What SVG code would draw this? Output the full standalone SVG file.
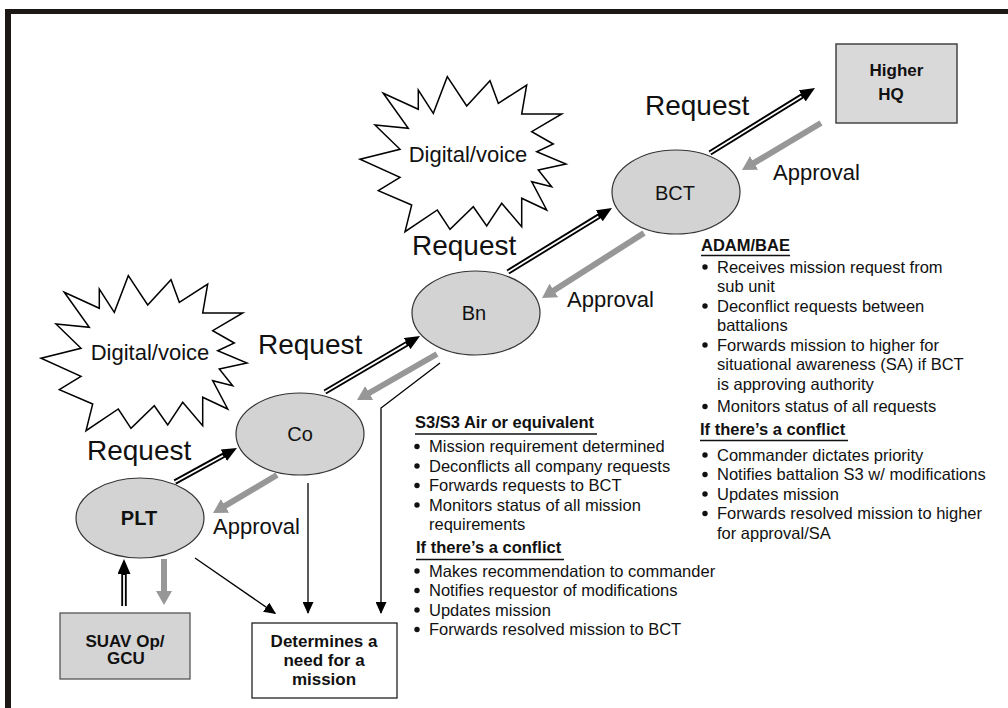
<svg xmlns="http://www.w3.org/2000/svg" width="1008" height="708" viewBox="0 0 1008 708">
<style>
text{font-family:"Liberation Sans",Arial,Helvetica,sans-serif;fill:#111}
.node{fill:#d3d3d3;stroke:#333;stroke-width:1.2}
.lbl{font-size:20px;text-anchor:middle}
.req{font-size:28px}
.appr{font-size:22px}
.dv{font-size:22px;text-anchor:middle}
.box{font-size:17px;font-weight:bold;text-anchor:middle}
.body{font-size:16.5px}
.hd{font-size:16.5px;font-weight:bold}
.ul{stroke:#111;stroke-width:1.6}
.blk{stroke:#000;stroke-width:5.5;fill:none}
.wht{stroke:#fff;stroke-width:1.8;fill:none}
.gry{stroke:#979797;stroke-width:6;fill:none}
.thin{stroke:#000;stroke-width:1.3;fill:none}
.burst{fill:#fff;stroke:#000;stroke-width:1.5}
.bul{fill:#111}
</style>
<defs>
<marker id="hReq" markerUnits="userSpaceOnUse" markerWidth="16" markerHeight="13" refX="1" refY="6.5" orient="auto"><path d="M0,0 L15,6.5 L0,13 Z" fill="#000"/></marker>
<marker id="hAppr" markerUnits="userSpaceOnUse" markerWidth="15" markerHeight="16" refX="1" refY="8" orient="auto"><path d="M0,0 L14,8 L0,16 Z" fill="#979797"/></marker>
<marker id="hThin" markerUnits="userSpaceOnUse" markerWidth="13" markerHeight="11" refX="11" refY="5.5" orient="auto"><path d="M0,0 L12,5.5 L0,11 Z" fill="#000"/></marker>
<polygon id="burst" class="burst" points="33.3,23.3 68.3,39.3 68.3,20 83.3,43.3 97.3,6.7 116.7,36 140,10.7 148.3,33.3 176.7,15 171.7,44 211.7,44 181.7,61.7 203.3,74 186.7,81.7 216,94 188.3,100 201.7,116.7 181.7,111.7 196.7,140 171.7,128.3 171.7,156.7 151.7,133.3 136.7,156 123.3,136.7 100,159.3 87.3,140 55,161.7 61.7,135 28.3,120.7 50,107.3 10,89.3 50,79.3 25,55 58.3,58.3"/>
</defs>
<rect width="1008" height="708" fill="#fff"/>
<g id="frame">
<rect x="5" y="9" width="1003" height="5" fill="#1c1814"/>
<rect x="5" y="9" width="6" height="699" fill="#1c1814"/>
</g>
<g id="burst1"><use href="#burst" x="31" y="269"/><text class="dv" x="150" y="360">Digital/voice</text></g>
<g id="burst2"><use href="#burst" x="350" y="70"/><text class="dv" x="468" y="162">Digital/voice</text></g>
<g id="connectors">
<line class="blk" x1="175" y1="482" x2="224.7" y2="454.7" marker-end="url(#hReq)"/>
<line class="wht" x1="175" y1="482" x2="223" y2="455.7"/>
<line class="blk" x1="325" y1="392" x2="408" y2="343.1" marker-end="url(#hReq)"/>
<line class="wht" x1="325" y1="392" x2="406.2" y2="344.1"/>
<line class="blk" x1="508" y1="272" x2="600.1" y2="215.3" marker-end="url(#hReq)"/>
<line class="wht" x1="508" y1="272" x2="598.4" y2="216.4"/>
<line class="blk" x1="710" y1="153" x2="803.1" y2="95.4" marker-end="url(#hReq)"/>
<line class="wht" x1="710" y1="153" x2="801.4" y2="96.4"/>
<line class="blk" x1="124" y1="606" x2="124" y2="573" marker-end="url(#hReq)"/>
<line class="wht" x1="124" y1="606" x2="124" y2="575"/>
<line class="gry" x1="821" y1="123" x2="753.2" y2="163.4" marker-end="url(#hAppr)"/>
<line class="gry" x1="644" y1="233" x2="553" y2="291" marker-end="url(#hAppr)"/>
<line class="gry" x1="437" y1="354" x2="368.3" y2="393.5" marker-end="url(#hAppr)"/>
<line class="gry" x1="277" y1="475" x2="224.2" y2="506.4" marker-end="url(#hAppr)"/>
<line class="gry" x1="164" y1="559" x2="164" y2="592" marker-end="url(#hAppr)"/>
<line class="thin" x1="195" y1="558" x2="275.2" y2="613.4" marker-end="url(#hThin)"/>
<line class="thin" x1="308" y1="483" x2="308" y2="613" marker-end="url(#hThin)"/>
<polyline class="thin" points="440,363 381,408 381,613" marker-end="url(#hThin)"/>
</g>
<g id="labels">
<text class="req" x="87" y="460">Request</text>
<text class="req" x="258" y="354">Request</text>
<text class="req" x="412" y="255">Request</text>
<text class="req" x="645" y="115">Request</text>
<text class="appr" x="213" y="534">Approval</text>
<text class="appr" x="567" y="307">Approval</text>
<text class="appr" x="773" y="180">Approval</text>
</g>
<g id="plt"><ellipse class="node" cx="140" cy="518" rx="64" ry="40"/><text class="lbl" x="139" y="525" font-weight="bold" font-size="19">PLT</text></g>
<g id="co"><ellipse class="node" cx="300" cy="434" rx="64" ry="41"/><text class="lbl" x="300" y="441">Co</text></g>
<g id="bn"><ellipse class="node" cx="476" cy="313" rx="64" ry="42"/><text class="lbl" x="474" y="320">Bn</text></g>
<g id="bct"><ellipse class="node" cx="676" cy="192" rx="64" ry="42"/><text class="lbl" x="675" y="200">BCT</text></g>
<g id="hq"><rect x="836" y="44" width="121" height="79" fill="#d9d9d9" stroke="#444" stroke-width="1.5"/><text class="box" font-size="19" x="896.5" y="76">Higher</text><text class="box" font-size="19" x="891" y="100">HQ</text></g>
<g id="suav"><rect x="60" y="613" width="130" height="66" fill="#d4d4d4" stroke="#555" stroke-width="1.3"/><text class="box" x="125" y="647">SUAV Op/</text><text class="box" x="126" y="664">GCU</text></g>
<g id="determines"><rect x="252" y="623" width="145" height="75" fill="#fff" stroke="#222" stroke-width="1.3"/><text class="box" font-size="16.5" x="324" y="647">Determines a</text><text class="box" font-size="16.5" x="324" y="666">need for a</text><text class="box" font-size="16.5" x="324" y="685">mission</text></g>
<g id="s3-notes">
<text class="hd" x="415" y="428">S3/S3 Air or equivalent</text>
<line class="ul" x1="415" y1="434" x2="597" y2="434"/>
<circle class="bul" cx="417" cy="446.5" r="2.7"/><text class="body" x="429" y="452">Mission requirement determined</text>
<circle class="bul" cx="417" cy="466" r="2.7"/><text class="body" x="429" y="471.5">Deconflicts all company requests</text>
<circle class="bul" cx="417" cy="485.5" r="2.7"/><text class="body" x="429" y="491">Forwards requests to BCT</text>
<circle class="bul" cx="417" cy="505" r="2.7"/><text class="body" x="429" y="510.5">Monitors status of all mission</text>
<text class="body" x="429" y="530">requirements</text>
<text class="hd" x="416" y="553">If there’s a conflict</text>
<line class="ul" x1="416" y1="559.5" x2="564" y2="559.5"/>
<circle class="bul" cx="417" cy="571" r="2.7"/><text class="body" x="429" y="576.5">Makes recommendation to commander</text>
<circle class="bul" cx="417" cy="590.5" r="2.7"/><text class="body" x="429" y="596">Notifies requestor of modifications</text>
<circle class="bul" cx="417" cy="610" r="2.7"/><text class="body" x="429" y="615.5">Updates mission</text>
<circle class="bul" cx="417" cy="629.5" r="2.7"/><text class="body" x="429" y="635">Forwards resolved mission to BCT</text>
</g>
<g id="adam-notes">
<text class="hd" x="701" y="251">ADAM/BAE</text>
<line class="ul" x1="701" y1="255.5" x2="790" y2="255.5"/>
<circle class="bul" cx="705" cy="267" r="2.7"/><text class="body" x="717" y="272.5">Receives mission request from</text>
<text class="body" x="717" y="292">sub unit</text>
<circle class="bul" cx="705" cy="306" r="2.7"/><text class="body" x="717" y="311.5">Deconflict requests between</text>
<text class="body" x="717" y="331">battalions</text>
<circle class="bul" cx="705" cy="345" r="2.7"/><text class="body" x="717" y="350.5">Forwards mission to higher for</text>
<text class="body" x="717" y="370">situational awareness (SA) if BCT</text>
<text class="body" x="717" y="389.5">is approving authority</text>
<circle class="bul" cx="705" cy="406.5" r="2.7"/><text class="body" x="717" y="412">Monitors status of all requests</text>
<text class="hd" x="700" y="435">If there’s a conflict</text>
<line class="ul" x1="700" y1="440.5" x2="848" y2="440.5"/>
<circle class="bul" cx="705" cy="455" r="2.7"/><text class="body" x="717" y="460.5">Commander dictates priority</text>
<circle class="bul" cx="705" cy="474.5" r="2.7"/><text class="body" x="717" y="480">Notifies battalion S3 w/ modifications</text>
<circle class="bul" cx="705" cy="494" r="2.7"/><text class="body" x="717" y="499.5">Updates mission</text>
<circle class="bul" cx="705" cy="513.5" r="2.7"/><text class="body" x="717" y="519">Forwards resolved mission to higher</text>
<text class="body" x="717" y="538.5">for approval/SA</text>
</g>
</svg>
